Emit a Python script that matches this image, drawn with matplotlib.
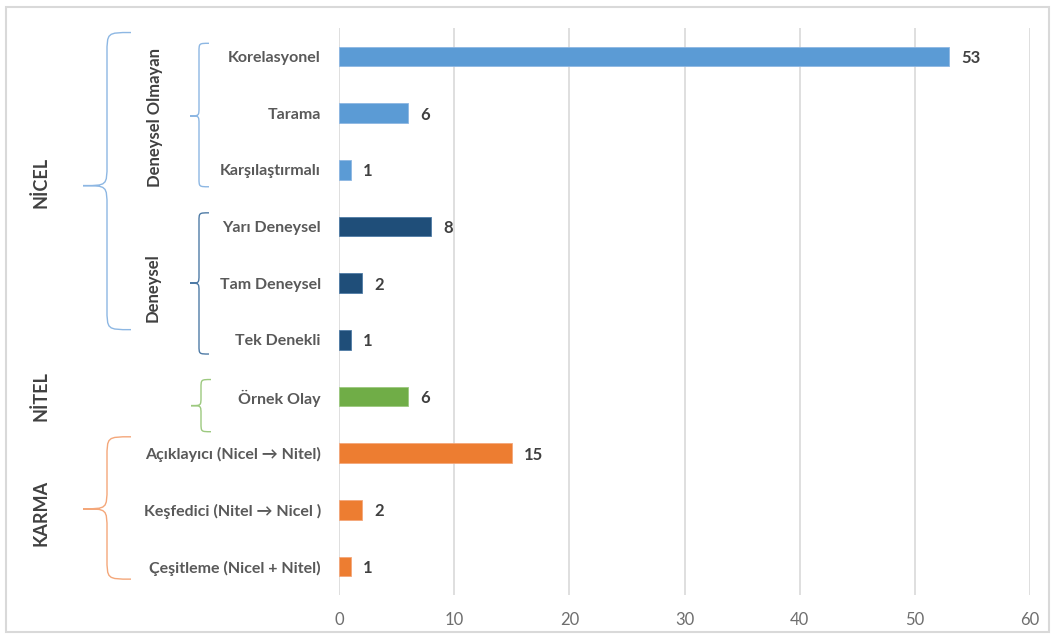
import numpy as np
import matplotlib.pyplot as plt
from matplotlib.path import Path
from matplotlib.patches import PathPatch, Rectangle
import matplotlib.transforms as mtransforms

plt.rcParams['font.family'] = ['Lato', 'DejaVu Sans']

# data
categories = ["Korelasyonel", "Tarama", "Karşılaştırmalı",
              "Yarı Deneysel", "Tam Deneysel", "Tek Denekli",
              "Örnek Olay",
              "Açıklayıcı (Nicel → Nitel)", "Keşfedici (Nitel → Nicel )",
              "Çeşitleme (Nicel + Nitel)"]
values = [53, 6, 1, 8, 2, 1, 6, 15, 2, 1]
groups = ["olmayan", "olmayan", "olmayan", "deneysel", "deneysel", "deneysel",
          "nitel", "karma", "karma", "karma"]

colors = {"olmayan": "#5B9BD5", "deneysel": "#1F4E79",
          "nitel": "#70AD47", "karma": "#ED7D31"}
edge_colors = {"olmayan": "#8DB7E3", "deneysel": "#4F7BA6",
               "nitel": "#9CC97F", "karma": "#F4A77A"}

W, H = 1055, 639
fig = plt.figure(figsize=(W / 100, H / 100), dpi=100)
ax = fig.add_axes([339 / W, 1 - 595 / H, 691 / W, 567 / H])

y = np.arange(len(categories))
bars = ax.barh(y, values, height=0.345,
               color=[colors[g] for g in groups],
               edgecolor=[edge_colors[g] for g in groups], linewidth=0.6,
               zorder=3)
ax.set_ylim(len(categories) - 0.5, -0.5)
ax.set_xlim(0, 60)
ax.set_xticks(np.arange(0, 61, 10))
ax.set_yticks(y)
ax.set_yticklabels(categories, fontsize=11.5, fontweight='bold', color='#595959')
ax.tick_params(axis='y', length=0, pad=13)
ax.tick_params(axis='x', length=0, pad=12, labelsize=12, labelcolor='#6E6E6E')
ax.grid(axis='x', color='#D9D9D9', linewidth=1.2, zorder=0)
for s in ax.spines.values():
    s.set_visible(False)

for yi, v in zip(y, values):
    ax.text(v + 1.05, yi, str(v), va='center_baseline', ha='left', fontsize=12,
            fontweight='bold', color='#404040')

# x in figure pixels, y in data units
px = mtransforms.Affine2D().scale(1 / W, 1) + fig.transFigure
trans = mtransforms.blended_transform_factory(px, ax.transData)


def brace(x_end, x_spine, x_tip, y_top, y_bot, y_tip, r, color):
    verts = [(x_end, y_top),
             (x_spine, y_top), (x_spine, y_top), (x_spine, y_top + r),
             (x_spine, y_tip - r),
             (x_spine, y_tip), (x_spine, y_tip), (x_tip, y_tip),
             (x_spine, y_tip), (x_spine, y_tip), (x_spine, y_tip + r),
             (x_spine, y_bot - r),
             (x_spine, y_bot), (x_spine, y_bot), (x_end, y_bot)]
    codes = [Path.MOVETO,
             Path.CURVE4, Path.CURVE4, Path.CURVE4,
             Path.LINETO,
             Path.CURVE4, Path.CURVE4, Path.CURVE4,
             Path.CURVE4, Path.CURVE4, Path.CURVE4,
             Path.LINETO,
             Path.CURVE4, Path.CURVE4, Path.CURVE4]
    p = PathPatch(Path(verts, codes), transform=trans, fill=False,
                  edgecolor=color, linewidth=1.0, clip_on=False)
    ax.add_patch(p)


brace(209, 199, 190, -0.23, 2.30, 1.05, 0.15, "#8DB7E3")
brace(209, 199, 190, 2.76, 5.25, 4.00, 0.15, "#4F7BA6")
brace(211, 201, 191, 5.70, 6.62, 6.16, 0.15, "#9CC97F")
brace(131, 107, 83, 6.71, 9.22, 7.98, 0.38, "#F4A77A")
brace(131, 107, 83, -0.42, 4.82, 2.28, 0.38, "#8DB7E3")

lab = dict(rotation=90, va='center', ha='center', fontweight='bold',
           color='#404040', transform=trans)
ax.text(155, 1.08, "Deneysel Olmayan", fontsize=12, **lab)
ax.text(153, 4.08, "Deneysel", fontsize=12, **lab)
ax.text(41, 2.23, "NİCEL", fontsize=13, **lab)
ax.text(41, 6.0, "NİTEL", fontsize=13, **lab)
ax.text(41, 8.06, "KARMA", fontsize=13, **lab)

# chart border
fig.patches.append(Rectangle((6 / W, 1 - 632 / H), 1043 / W, 625 / H,
                             transform=fig.transFigure, fill=False,
                             edgecolor='#D9D9D9', linewidth=1.5))

fig.savefig("out.png", dpi=100)
